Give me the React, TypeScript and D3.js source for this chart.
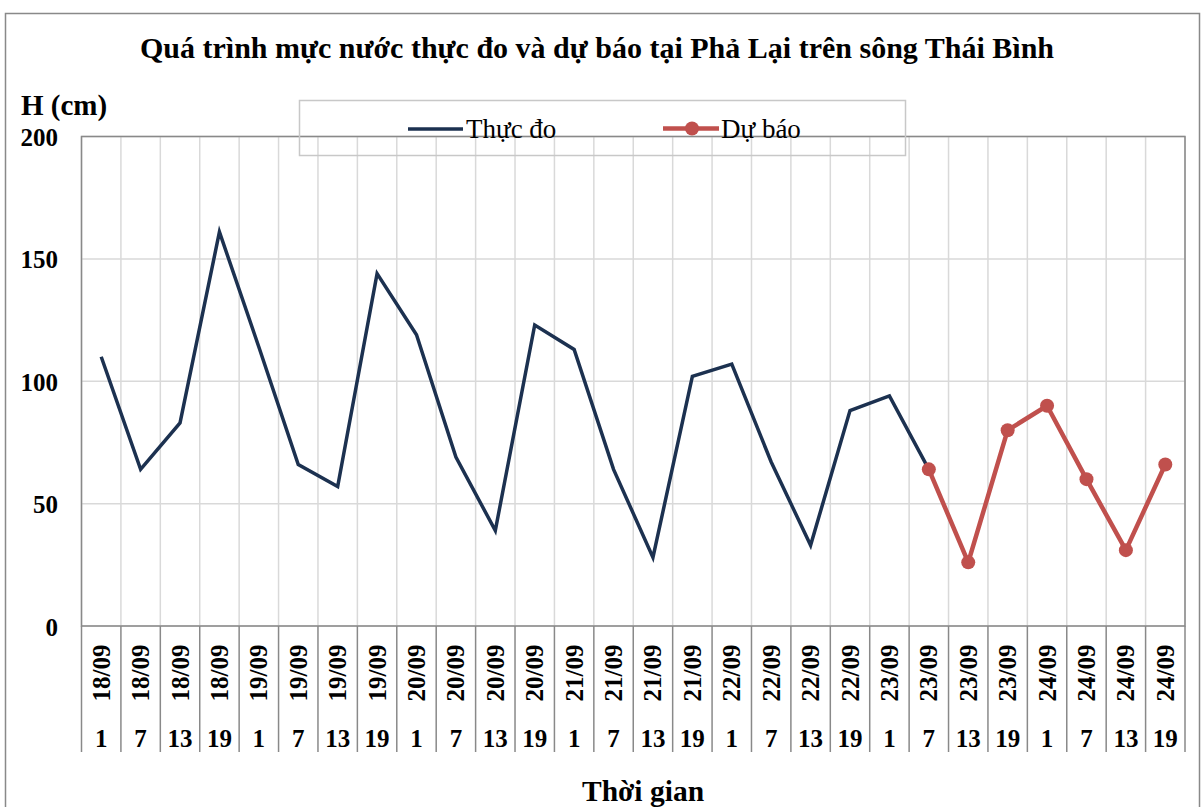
import React from "react";
import * as d3 from "d3";

const dates = [
  "18/09","18/09","18/09","18/09",
  "19/09","19/09","19/09","19/09",
  "20/09","20/09","20/09","20/09",
  "21/09","21/09","21/09","21/09",
  "22/09","22/09","22/09","22/09",
  "23/09","23/09","23/09","23/09",
  "24/09","24/09","24/09","24/09",
];
const hours = [1,7,13,19,1,7,13,19,1,7,13,19,1,7,13,19,1,7,13,19,1,7,13,19,1,7,13,19];
const measured = [110, 64, 83, 161, 114, 66, 57, 144, 119, 69, 39, 123, 113, 64, 28, 102, 107, 67, 33, 88, 94, 64];
const forecastStart = 21;
const forecast = [64, 26, 80, 90, 60, 31, 66];
const yTicks = [0, 50, 100, 150, 200];

const title = "Quá trình mực nước thực đo và dự báo tại Phả Lại trên sông Thái Bình";
const yTitle = "H (cm)";
const xTitle = "Thời gian";
const legendMeasured = "Thực đo";
const legendForecast = "Dự báo";

const W = 1204, H = 807;
const L = 81.5, R = 1185, T = 136.5, B = 626;
const FONT = "'Liberation Serif', 'Times New Roman', serif";
const NAVY = "#1c3150";
const RED = "#c0504d";
const GRID = "#d9d9d9";
const AXIS = "#898989";

export default function App() {
  const idx = dates.map((_, i) => i);
  const x = d3.scaleBand<number>().domain(idx).range([L, R]).padding(0);
  const y = d3.scaleLinear().domain([0, 200]).range([B, T]);
  const cx = (i: number) => (x(i) as number) + x.bandwidth() / 2;

  const line = d3.line<[number, number]>().x(d => cx(d[0])).y(d => y(d[1]));
  const mPts: [number, number][] = measured.map((v, i) => [i, v]);
  const fPts: [number, number][] = forecast.map((v, i) => [forecastStart + i, v]);

  const boundaries = idx.map(i => x(i) as number).concat([R]);

  return (
    <svg width={W} height={H} style={{ position: "absolute", left: 0, top: 0, background: "#fff" }} fontFamily={FONT}>
      <rect x={0} y={0} width={W} height={H} fill="#fff" />
      {/* outer border */}
      <rect x={5.5} y={13.5} width={1194} height={H + 20} fill="none" stroke={AXIS} strokeWidth={1.5} />

      {/* title */}
      <text x={597} y={58} textAnchor="middle" fontSize={30} fontWeight="bold" fill="#000">{title}</text>

      {/* horizontal grid */}
      {yTicks.map(t => (
        <line key={"h" + t} x1={L} x2={R} y1={y(t)} y2={y(t)} stroke={GRID} strokeWidth={1.5} />
      ))}
      {/* vertical grid */}
      {boundaries.map((b, i) => (
        <line key={"v" + i} x1={b} x2={b} y1={T} y2={B} stroke={GRID} strokeWidth={1.5} />
      ))}
      {/* plot border */}
      <rect x={L} y={T} width={R - L} height={B - T} fill="none" stroke={AXIS} strokeWidth={1.5} />
      {/* separators below axis */}
      {boundaries.map((b, i) => (
        <line key={"s" + i} x1={b} x2={b} y1={B} y2={752} stroke={AXIS} strokeWidth={1.5} />
      ))}

      {/* y tick labels */}
      {yTicks.map(t => (
        <text key={"yt" + t} x={58} y={y(t) + 9.5} textAnchor="end" fontSize={25} fontWeight="bold">{t}</text>
      ))}
      <text x={21} y={115} fontSize={29} fontWeight="bold">{yTitle}</text>

      {/* x labels */}
      {idx.map(i => (
        <text key={"d" + i} transform={`translate(${cx(i) + 8.5},673) rotate(-90)`} textAnchor="middle" fontSize={25} fontWeight="bold">{dates[i]}</text>
      ))}
      {idx.map(i => (
        <text key={"hr" + i} x={cx(i)} y={746.5} textAnchor="middle" fontSize={25} fontWeight="bold">{hours[i]}</text>
      ))}
      <text x={643} y={801} textAnchor="middle" fontSize={29.5} fontWeight="bold">{xTitle}</text>

      {/* series */}
      <path d={line(mPts) || ""} fill="none" stroke={NAVY} strokeWidth={3.5} strokeLinejoin="miter" />
      <path d={line(fPts) || ""} fill="none" stroke={RED} strokeWidth={4.5} strokeLinejoin="round" />
      {fPts.map(p => (
        <circle key={"c" + p[0]} cx={cx(p[0])} cy={y(p[1])} r={7} fill={RED} />
      ))}

      {/* legend */}
      <rect x={299.5} y={100.5} width={606} height={55} fill="none" stroke="#c8c8c8" strokeWidth={1.5} />
      <line x1={408} x2={463} y1={129} y2={129} stroke={NAVY} strokeWidth={3.5} />
      <text x={466} y={138} fontSize={27} fill="#000">{legendMeasured}</text>
      <line x1={663} x2={719} y1={128.5} y2={128.5} stroke={RED} strokeWidth={4.5} />
      <circle cx={692} cy={128.5} r={7} fill={RED} />
      <text x={721} y={138} fontSize={27} fill="#000">{legendForecast}</text>
    </svg>
  );
}
